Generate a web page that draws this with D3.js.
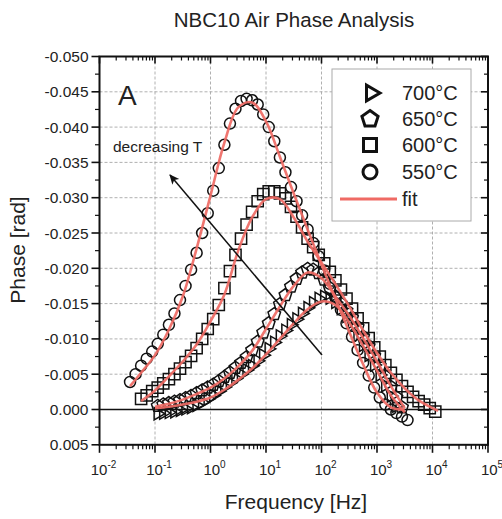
<!DOCTYPE html>
<html><head><meta charset="utf-8">
<script src="https://cdn.jsdelivr.net/npm/d3@7"></script>
<style>
body{margin:0;background:#fff}
svg{display:block}
text{font-family:"Liberation Sans",Arial,Helvetica,sans-serif;fill:#222}
</style>
</head><body>
<svg id="c" width="502" height="519"></svg>
<script>
// ---------------- data ----------------
const freq = [0.0355,0.0447,0.0562,0.0708,0.0891,0.112,0.141,0.178,0.224,0.282,
  0.355,0.447,0.562,0.708,0.891,1.12,1.41,1.78,2.24,2.82,
  3.55,4.47,5.62,7.08,8.91,11.2,14.1,17.8,22.4,28.2,
  35.5,44.7,56.2,70.8,89.1,112,141,178,224,282,
  355,447,562,708,891,1122,1413,1778,2239,2818,
  3548,4467,5623,7079,8913,11220];

const phase550 = [-0.0039,-0.0050,-0.0062,-0.0072,-0.0082,-0.0093,-0.0106,-0.0120,-0.0136,-0.0155,
  -0.0175,-0.0198,-0.0222,-0.0250,-0.0278,-0.0310,-0.0342,-0.0375,-0.0405,-0.0426,
  -0.0437,-0.0440,-0.0438,-0.0432,-0.0418,-0.0400,-0.0380,-0.0357,-0.0336,-0.0315,
  -0.0295,-0.0275,-0.0255,-0.0236,-0.0217,-0.0197,-0.0178,-0.0159,-0.0141,-0.0122,
  -0.0103,-0.0084,-0.0066,-0.0048,-0.0031,-0.0017,-0.0007,0.0000,0.0005,0.0010,
  0.0015,null,null,null,null,null];

const phase600 = [null,null,-0.0015,-0.0020,-0.0026,-0.0031,-0.0037,-0.0043,-0.0050,-0.0058,
  -0.0067,-0.0076,-0.0087,-0.0100,-0.0114,-0.0128,-0.0148,-0.0172,-0.0196,-0.0219,
  -0.0242,-0.0262,-0.0280,-0.0295,-0.0305,-0.0309,-0.0309,-0.0306,-0.0299,-0.0287,
  -0.0273,-0.0258,-0.0242,-0.0230,-0.0219,-0.0207,-0.0195,-0.0183,-0.0170,-0.0157,
  -0.0143,-0.0129,-0.0115,-0.0101,-0.0088,-0.0075,-0.0063,-0.0052,-0.0042,-0.0033,
  -0.0025,-0.0018,-0.0012,-0.0007,-0.0002,0.0003];

const phase650 = [null,null,null,null,null,-0.0005,-0.0007,-0.0009,-0.0011,-0.0013,
  -0.0016,-0.0019,-0.0023,-0.0027,-0.0031,-0.0035,-0.0040,-0.0046,-0.0052,-0.0059,
  -0.0066,-0.0074,-0.0084,-0.0096,-0.0109,-0.0122,-0.0135,-0.0149,-0.0162,-0.0174,
  -0.0185,-0.0194,-0.0199,-0.0198,-0.0193,-0.0184,-0.0172,-0.0160,-0.0150,-0.0140,
  -0.0130,-0.0117,-0.0103,-0.0090,-0.0076,-0.0062,-0.0047,-0.0032,-0.0017,-0.0003,
  null,null,null,null,null,null];

const phase700 = [null,null,null,null,null,0.0006,0.0005,0.0004,0.0003,0.0001,
  -0.0001,-0.0003,-0.0006,-0.0010,-0.0015,-0.0020,-0.0026,-0.0032,-0.0038,-0.0044,
  -0.0050,-0.0056,-0.0062,-0.0069,-0.0077,-0.0086,-0.0095,-0.0104,-0.0112,-0.0120,
  -0.0128,-0.0136,-0.0144,-0.0151,-0.0157,-0.0160,-0.0158,-0.0152,-0.0143,-0.0132,
  -0.0119,-0.0105,-0.0091,-0.0077,-0.0063,-0.0049,-0.0034,-0.0019,-0.0005,null,
  null,null,null,null,null,null];

const fitFreq = [0.0355,0.0562,0.1,0.178,0.316,0.562,1,1.78,3.16,5.62,
  10,17.8,31.6,56.2,100,178,316,562,1000,1778,3162,5623,10000,12600];
const fit550 = [-0.0033,-0.0052,-0.0077,-0.0113,-0.0160,-0.0228,-0.0303,-0.0378,-0.0428,-0.0435,
  -0.0408,-0.0358,-0.0306,-0.0255,-0.0205,-0.0157,-0.0110,-0.0064,-0.0024,-0.0003,0.0000,null,null,null];
const fit600 = [null,-0.0012,-0.0027,-0.0047,-0.0068,-0.0092,-0.0125,-0.0163,-0.0225,-0.0272,
  -0.0298,-0.0298,-0.0272,-0.0238,-0.0208,-0.0178,-0.0146,-0.0112,-0.0080,-0.0052,-0.0030,-0.0013,-0.0002,0.0002];
const fit650 = [null,null,-0.0004,-0.0008,-0.0014,-0.0022,-0.0031,-0.0044,-0.0061,-0.0083,
  -0.0114,-0.0146,-0.0175,-0.0194,-0.0186,-0.0160,-0.0133,-0.0101,-0.0068,-0.0033,-0.0002,null,null,null];
const fit700 = [null,null,-0.0002,-0.0004,-0.0007,-0.0011,-0.0017,-0.0028,-0.0042,-0.0058,
  -0.0078,-0.0100,-0.0122,-0.0142,-0.0153,-0.0148,-0.0123,-0.0090,-0.0055,-0.0020,0.0004,null,null,null];

const yTicks = [-0.050,-0.045,-0.040,-0.035,-0.030,-0.025,-0.020,-0.015,-0.010,-0.005,0.000,0.005];
const xTicks = [1e-2,1e-1,1e0,1e1,1e2,1e3,1e4,1e5];
const xTickExp = ["-2","-1","0","1","2","3","4","5"];
const legendLabels = ["700°C","650°C","600°C","550°C","fit"];

// ---------------- layout ----------------
const L=99.5, R=488, T=56.5, B=444.8;
const svg = d3.select("#c");
const x = d3.scaleLog().domain([1e-2,1e5]).range([L,R]);
const y = d3.scaleLinear().domain([0.005,-0.05]).range([B,T]);
const RED = "#ef6a64";

// grid
const grid = svg.append("g");
grid.selectAll("line.gx").data(xTicks.slice(1,-1)).join("line")
  .attr("x1",d=>x(d)).attr("x2",d=>x(d)).attr("y1",T).attr("y2",B)
  .attr("stroke","#9c9c9c").attr("stroke-width",0.8).attr("stroke-dasharray","3,2");
grid.selectAll("line.gy").data(yTicks.filter(d=>d>-0.0499 && d<-0.001)).join("line")
  .attr("x1",L).attr("x2",R).attr("y1",d=>y(d)).attr("y2",d=>y(d))
  .attr("stroke","#9c9c9c").attr("stroke-width",0.8).attr("stroke-dasharray","3,2");

// zero line
svg.append("line").attr("x1",L).attr("x2",R).attr("y1",y(0)).attr("y2",y(0))
  .attr("stroke","#111").attr("stroke-width",1.6);

// minor ticks
const xMinor = [];
xTicks.slice(0,-1).forEach(d=>{ for(let k=2;k<10;k++) xMinor.push(d*k); });
const yMinor = yTicks.slice(0,-1).map(d=>d+0.0025);

const axes = svg.append("g").attr("stroke","#111");
axes.selectAll("line.bM").data(xTicks).join("line").attr("x1",d=>x(d)).attr("x2",d=>x(d)).attr("y1",B).attr("y2",B+8).attr("stroke-width",1.6);
axes.selectAll("line.bm").data(xMinor).join("line").attr("x1",d=>x(d)).attr("x2",d=>x(d)).attr("y1",B).attr("y2",B+4.5).attr("stroke-width",1.2);
axes.selectAll("line.tM").data(xTicks).join("line").attr("x1",d=>x(d)).attr("x2",d=>x(d)).attr("y1",T).attr("y2",T+7).attr("stroke-width",1.6);
axes.selectAll("line.tm").data(xMinor).join("line").attr("x1",d=>x(d)).attr("x2",d=>x(d)).attr("y1",T).attr("y2",T+4).attr("stroke-width",1.2);
axes.selectAll("line.lM").data(yTicks).join("line").attr("x1",L-8).attr("x2",L).attr("y1",d=>y(d)).attr("y2",d=>y(d)).attr("stroke-width",1.6);
axes.selectAll("line.lm").data(yMinor).join("line").attr("x1",L-4.5).attr("x2",L).attr("y1",d=>y(d)).attr("y2",d=>y(d)).attr("stroke-width",1.2);
axes.selectAll("line.rM").data(yTicks).join("line").attr("x1",R-7).attr("x2",R).attr("y1",d=>y(d)).attr("y2",d=>y(d)).attr("stroke-width",1.6);
axes.selectAll("line.rm").data(yMinor).join("line").attr("x1",R-4).attr("x2",R).attr("y1",d=>y(d)).attr("y2",d=>y(d)).attr("stroke-width",1.2);

// y tick labels
svg.append("g").selectAll("text").data(yTicks).join("text")
  .attr("x",L-11).attr("y",d=>y(d)).attr("dy","0.36em").attr("text-anchor","end")
  .attr("font-size",15.5).text(d=>d.toFixed(3));
// x tick labels
const xl = svg.append("g").selectAll("text").data(xTicks).join("text")
  .attr("x",(d,i)=>x(d)+4).attr("y",475).attr("text-anchor","middle").attr("font-size",15);
xl.append("tspan").text("10");
xl.append("tspan").attr("font-size",10).attr("dy",-7).text((d,i)=>xTickExp[i]);

// marker shapes
const tri = r=>`M${r},0L${-r*0.5},${-r*0.866}L${-r*0.5},${r*0.866}Z`;
const pent = r=>{ let p=""; for(let k=0;k<5;k++){const a=(-90+72*k)*Math.PI/180; p+=(k?"L":"M")+(r*Math.cos(a)).toFixed(2)+","+(r*Math.sin(a)).toFixed(2);} return p+"Z"; };
const sq = s=>`M${-s},${-s}H${s}V${s}H${-s}Z`;
const circ = r=>`M${r},0A${r},${r} 0 1,1 ${-r},0A${r},${r} 0 1,1 ${r},0Z`;

const series = [
  {vals:phase700, path:tri(7.2)},
  {vals:phase650, path:pent(6.6)},
  {vals:phase600, path:sq(5.6)},
  {vals:phase550, path:circ(5.5)}
];
const mk = svg.append("g").attr("fill","none").attr("stroke","#111").attr("stroke-width",1.5);
series.forEach(s=>{
  const pts = freq.map((f,i)=>[f,s.vals[i]]).filter(d=>d[1]!=null);
  mk.append("g").selectAll("path").data(pts).join("path")
    .attr("transform",d=>`translate(${x(d[0])},${y(d[1])})`).attr("d",s.path);
});

// fits
const line = d3.line().defined(d=>d[1]!=null).x(d=>x(d[0])).y(d=>y(d[1])).curve(d3.curveCatmullRom);
[fit550,fit600,fit650,fit700].forEach(fv=>{
  svg.append("path").datum(fitFreq.map((f,i)=>[f,fv[i]]))
    .attr("d",line).attr("fill","none").attr("stroke",RED).attr("stroke-width",2.6).attr("stroke-opacity",0.92);
});

// frame
svg.append("rect").attr("x",L).attr("y",T).attr("width",R-L).attr("height",B-T)
  .attr("fill","none").attr("stroke","#111").attr("stroke-width",2);

// arrow annotation
const defs = svg.append("defs");
defs.append("marker").attr("id","ah").attr("viewBox","0 0 10 10").attr("refX",9).attr("refY",5)
  .attr("markerWidth",10).attr("markerHeight",10).attr("orient","auto-start-reverse").attr("markerUnits","userSpaceOnUse")
  .append("path").attr("d","M0,0.5L10,5L0,9.5L2.5,5Z").attr("fill","#111");
svg.append("line").attr("x1",322).attr("y1",355).attr("x2",170).attr("y2",175)
  .attr("stroke","#111").attr("stroke-width",1.5).attr("marker-end","url(#ah)");
svg.append("text").attr("x",113).attr("y",152).attr("font-size",15.5).text("decreasing T");
svg.append("text").attr("x",118).attr("y",105).attr("font-size",28).text("A");

// legend
const lg = svg.append("g");
lg.append("rect").attr("x",332).attr("y",69).attr("width",139).attr("height",152)
  .attr("fill","#fff").attr("stroke","#aaa").attr("stroke-width",1);
const rows = [93,119,145,172,199];
const legPaths = [tri(9),pent(8.5),sq(6.5),circ(7)];
legPaths.forEach((p,i)=>{
  lg.append("path").attr("transform",`translate(${i===0?371:370},${rows[i]})`).attr("d",p)
    .attr("fill","none").attr("stroke","#111").attr("stroke-width",3);
});
lg.append("line").attr("x1",340).attr("x2",397).attr("y1",rows[4]).attr("y2",rows[4])
  .attr("stroke",RED).attr("stroke-width",3);
lg.selectAll("text").data(legendLabels).join("text")
  .attr("x",402).attr("y",(d,i)=>rows[i]).attr("dy","0.36em").attr("font-size",20).text(d=>d);

// titles
svg.append("text").attr("x",294).attr("y",27).attr("text-anchor","middle").attr("font-size",20.5).text("NBC10 Air Phase Analysis");
svg.append("text").attr("x",296).attr("y",509).attr("text-anchor","middle").attr("font-size",21).text("Frequency [Hz]");
svg.append("text").attr("transform","translate(25,250) rotate(-90)").attr("text-anchor","middle").attr("font-size",21).text("Phase [rad]");
</script>
</body></html>
